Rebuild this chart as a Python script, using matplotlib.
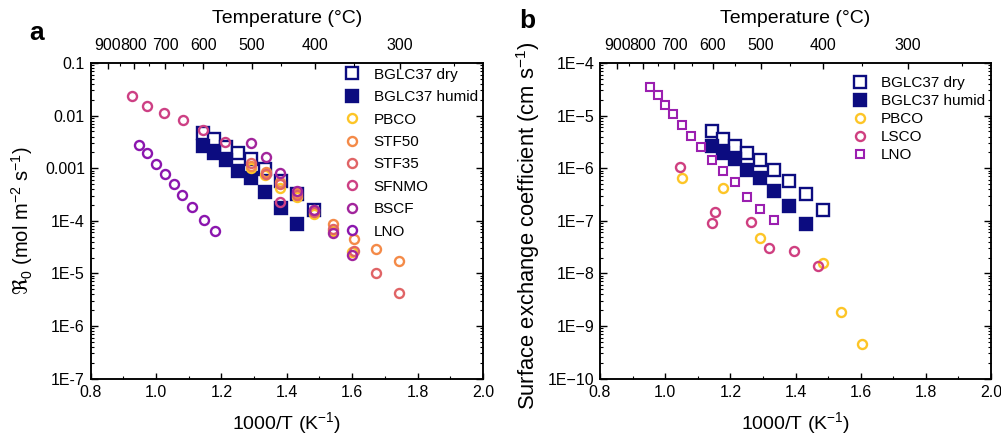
import numpy as np
import matplotlib.pyplot as plt
from matplotlib.ticker import MultipleLocator, LogLocator, NullFormatter

plt.rcParams['font.family'] = ['Liberation Sans', 'DejaVu Sans']
plt.rcParams['mathtext.fontset'] = 'custom'
plt.rcParams['mathtext.rm'] = 'Liberation Sans'

### panel a : R0 data (1000/T, mol m-2 s-1) ###
bglc_x = [1.145, 1.178, 1.213, 1.250, 1.292, 1.335, 1.381, 1.431, 1.484]
a_dry_y = [4.73e-3, 3.54e-3, 2.56e-3, 1.92e-3, 1.48e-3, 9.5e-4, 5.8e-4, 3.24e-4, 1.60e-4]
a_humid_y = [2.64e-3, 1.92e-3, 1.43e-3, 8.9e-4, 6.6e-4, 3.53e-4, 1.73e-4, 8.7e-5]

stf_x = [1.291, 1.336, 1.380, 1.431, 1.484, 1.540, 1.605, 1.673, 1.744]
pbco_a_x = [1.291, 1.335, 1.380, 1.431, 1.484, 1.540, 1.601]
pbco_a_y = [1.01e-3, 7.3e-4, 4.15e-4, 2.77e-4, 1.32e-4, 6.4e-5, 2.59e-5]
stf50_y = [1.12e-3, 8.6e-4, 5.5e-4, 3.33e-4, 1.60e-4, 8.7e-5, 4.45e-5, 2.87e-5, 1.72e-5]
stf35_y = [1.23e-3, 7.9e-4, 4.9e-4, 3.09e-4, 1.47e-4, 7.1e-5, 2.61e-5, 1.03e-5, 4.3e-6]
sfnmo_x = [0.928, 0.974, 1.026, 1.082, 1.144, 1.211, 1.379]
sfnmo_y = [2.36e-2, 1.54e-2, 1.14e-2, 8.2e-3, 5.3e-3, 3.1e-3, 2.25e-4]
bscf_x = [1.292, 1.336, 1.380, 1.431, 1.484, 1.540, 1.601]
bscf_y = [2.97e-3, 1.66e-3, 8.2e-4, 3.69e-4, 1.60e-4, 5.8e-5, 2.21e-5]
lno_a_x = [0.948, 0.974, 0.999, 1.027, 1.054, 1.081, 1.110, 1.147, 1.180]
lno_a_y = [2.72e-3, 1.95e-3, 1.20e-3, 7.9e-4, 4.9e-4, 3.13e-4, 1.85e-4, 1.05e-4, 6.4e-5]

### panel b : surface exchange coefficient (cm s-1) ###
b_dry_y = [5.0e-6, 3.54e-6, 2.61e-6, 1.92e-6, 1.45e-6, 9.4e-7, 5.7e-7, 3.27e-7, 1.63e-7]
b_humid_y = [2.68e-6, 1.92e-6, 1.48e-6, 9.4e-7, 6.6e-7, 3.69e-7, 1.91e-7, 8.8e-8]
pbco_b_x = [1.051, 1.177, 1.292, 1.484, 1.540, 1.605]
pbco_b_y = [6.5e-7, 4.2e-7, 4.65e-8, 1.58e-8, 1.85e-9, 4.6e-10]
lsco_x = [1.046, 1.154, 1.144, 1.264, 1.320, 1.396, 1.470]
lsco_y = [1.07e-6, 1.47e-7, 8.95e-8, 9.35e-8, 3.04e-8, 2.63e-8, 1.40e-8]
lno_b_x = [0.953, 0.977, 1.001, 1.024, 1.051, 1.079, 1.110, 1.143, 1.177, 1.213,
           1.250, 1.292, 1.334]
lno_b_y = [3.54e-5, 2.49e-5, 1.61e-5, 1.06e-5, 6.6e-6, 4.04e-6, 2.49e-6, 1.41e-6,
           8.7e-7, 5.5e-7, 2.87e-7, 1.66e-7, 1.04e-7]

temps_major = [900, 800, 700, 600, 500, 400, 300]
temps_minor = [850, 750, 650, 550, 450, 350, 250]
a_yticks = [1e-1, 1e-2, 1e-3, 1e-4, 1e-5, 1e-6, 1e-7]
a_ylabels = ['0.1', '0.01', '0.001', '1E-4', '1E-5', '1E-6', '1E-7']
b_yticks = [1e-4, 1e-5, 1e-6, 1e-7, 1e-8, 1e-9, 1e-10]
b_ylabels = ['1E\u22124', '1E\u22125', '1E\u22126', '1E\u22127', '1E\u22128',
             '1E\u22129', '1E\u221210']

NAVY = '#0c0c80'
C_PBCO = '#fdc527'
C_STF50 = '#f48a48'
C_STF35 = '#e06466'
C_SFNMO = '#cd4084'
C_BSCF = '#a2259c'
C_LNO = '#8b16ae'

circ = dict(ls='none', marker='o', ms=6.5, mew=1.7, mfc='none')
sq = dict(ls='none', marker='s', ms=8, mew=1.7)

W, H = 1001, 437
fig = plt.figure(figsize=(W / 100, H / 100), dpi=100)


def frame(left_px, right_px):
    top_px, bot_px = 63, 378.5
    return [left_px / W, (H - bot_px) / H, (right_px - left_px) / W, (bot_px - top_px) / H]


def style_axes(ax, yticks, ylabels, ylim):
    ax.set_xlim(0.8, 2.0)
    ax.set_yscale('log')
    ax.set_ylim(*ylim)
    ax.set_yticks(yticks)
    ax.set_yticklabels(ylabels)
    ax.yaxis.set_minor_locator(LogLocator(base=10, subs=np.arange(2, 10), numticks=20))
    ax.yaxis.set_minor_formatter(NullFormatter())
    ax.xaxis.set_major_locator(MultipleLocator(0.2))
    ax.xaxis.set_minor_locator(MultipleLocator(0.1))
    ax.xaxis.set_major_formatter(plt.FuncFormatter(lambda v, p: f'{v:.1f}'))
    ax.tick_params(which='both', direction='in', right=True, top=False, labelsize=11.5)
    ax.tick_params(axis='x', which='major', length=4, width=1, pad=5)
    ax.tick_params(axis='y', which='major', length=5, width=1, pad=4)
    ax.tick_params(which='minor', length=2.5, width=0.8)
    for s in ax.spines.values():
        s.set_linewidth(1.1)
    ax.set_xlabel('1000/T (K$^{-1}$)', fontsize=14, labelpad=7)

    # temperature scale along the top
    tx = ax.twiny()
    tx.set_xlim(0.8, 2.0)
    tx.set_xticks([1000 / (t + 273.15) for t in temps_major])
    tx.set_xticklabels([str(t) for t in temps_major])
    tx.set_xticks([1000 / (t + 273.15) for t in temps_minor], minor=True)
    tx.tick_params(which='both', direction='in', labelsize=11.5)
    tx.tick_params(which='major', length=4, width=1, pad=7)
    tx.tick_params(which='minor', length=2.5, width=0.8)
    tx.set_xlabel('Temperature (\u00b0C)', fontsize=14, labelpad=11)
    for s in tx.spines.values():
        s.set_linewidth(1.1)
    return tx


### panel a ###
ax1 = fig.add_axes(frame(90.5, 483))
style_axes(ax1, a_yticks, a_ylabels, (1e-7, 1e-1))
ax1.plot(bglc_x, a_dry_y, mec=NAVY, mfc='white', label='BGLC37 dry', **sq)
ax1.plot(bglc_x[:len(a_humid_y)], a_humid_y, mec=NAVY, mfc=NAVY, label='BGLC37 humid', **sq)
ax1.plot(pbco_a_x, pbco_a_y, mec=C_PBCO, label='PBCO', **circ)
ax1.plot(stf_x, stf50_y, mec=C_STF50, label='STF50', **circ)
ax1.plot(stf_x, stf35_y, mec=C_STF35, label='STF35', **circ)
ax1.plot(sfnmo_x, sfnmo_y, mec=C_SFNMO, label='SFNMO', **circ)
ax1.plot(bscf_x, bscf_y, mec=C_BSCF, label='BSCF', **circ)
ax1.plot(lno_a_x, lno_a_y, mec=C_LNO, label='LNO', **circ)
ax1.set_ylabel(r'$\Re_0$ (mol m$^{-2}$ s$^{-1}$)', fontsize=14.5, labelpad=7)
ax1.legend(loc='upper left', bbox_to_anchor=(0.644, 0.985), frameon=False, fontsize=11,
           borderpad=0, borderaxespad=0, handlelength=1.2, handletextpad=0.8,
           labelspacing=0.55, numpoints=1)

### panel b ###
ax2 = fig.add_axes(frame(600, 991))
style_axes(ax2, b_yticks, b_ylabels, (1e-10, 1e-4))
ax2.plot(bglc_x, b_dry_y, mec=NAVY, mfc='white', label='BGLC37 dry', **sq)
ax2.plot(bglc_x[:len(b_humid_y)], b_humid_y, mec=NAVY, mfc=NAVY, label='BGLC37 humid', **sq)
ax2.plot(pbco_b_x, pbco_b_y, mec=C_PBCO, label='PBCO', **circ)
ax2.plot(lsco_x, lsco_y, mec='#cf3f80', label='LSCO', **circ)
ax2.plot(lno_b_x, lno_b_y, ls='none', marker='s', ms=5.2, mew=1.5, mfc='none',
         mec='#9b1fb0', label='LNO')
ax2.set_ylabel('Surface exchange coefficient (cm s$^{-1}$)', fontsize=15.8, labelpad=4)
ax2.yaxis.set_label_coords(-0.148, 0.485)
ax2.legend(loc='upper left', bbox_to_anchor=(0.641, 0.958), frameon=False, fontsize=11,
           borderpad=0, borderaxespad=0, handlelength=1.2, handletextpad=0.8,
           labelspacing=0.26, numpoints=1)

fig.text(37 / W, 1 - 33 / H, 'a', fontsize=19, fontweight='bold', ha='center', va='center')
fig.text(527 / W, 1 - 21 / H, 'b', fontsize=19, fontweight='bold', ha='center', va='center')

fig.savefig('out.png', dpi=100)
